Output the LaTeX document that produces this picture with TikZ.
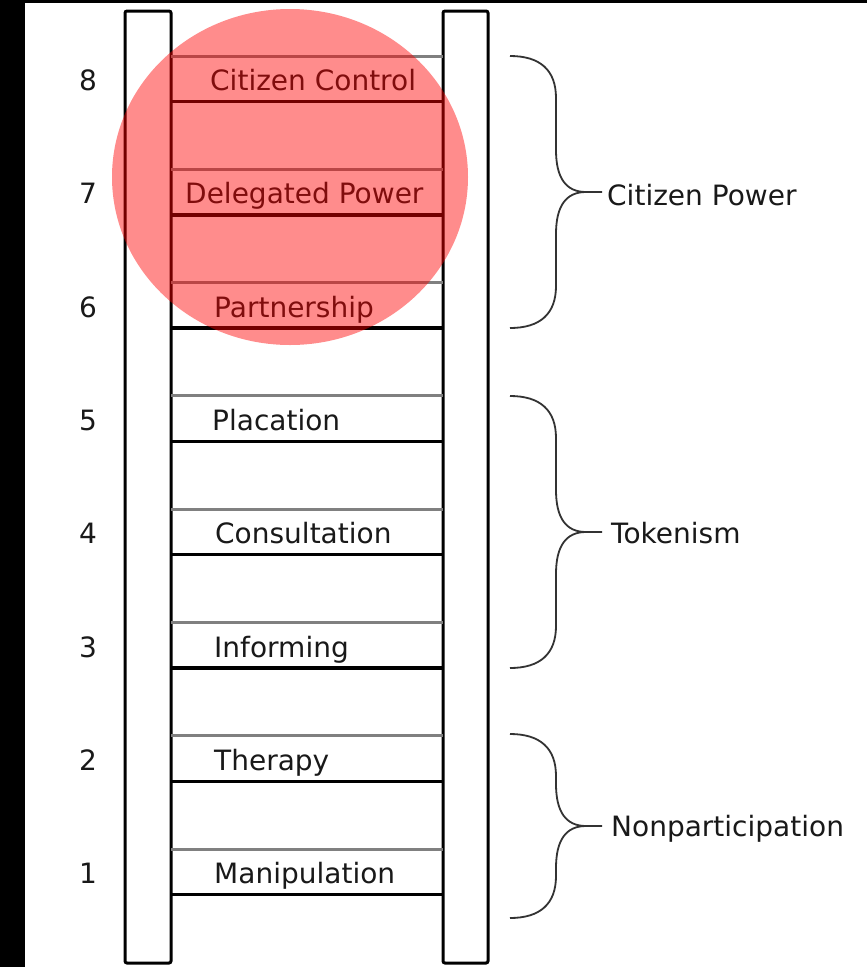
\documentclass[tikz,border=0pt]{standalone}
\usepackage{fontspec}
\setmainfont{DejaVu Sans}
\begin{document}
\begin{tikzpicture}[x=1pt,y=-1pt,
  rail/.style={draw=black,line width=3pt,fill=white,rounded corners=2pt},
  lowrung/.style={draw=black,line width=3.5pt},
  uprung/.style={draw=black!50,line width=3pt},
  lbl/.style={anchor=base west,inner sep=0pt,font=\fontsize{28}{32}\selectfont,text=black!90},
  num/.style={anchor=base,inner sep=0pt,font=\fontsize{28}{32}\selectfont,text=black!90},
  bracelbl/.style={anchor=base west,inner sep=0pt,font=\fontsize{28}{32}\selectfont,text=black!90},
  bracepath/.style={draw=black!80,line width=1.8pt},
  spot/.style={fill=red,fill opacity=0.45}]
\useasboundingbox (0,0) rectangle (867,967);
\fill[white] (0,0) rectangle (867,967);
\fill[black] (0,0) rectangle (25,967);
\fill[black] (0,0) rectangle (867,3);
% rails
\path[rail] (125,11) rectangle (171,963);
\path[rail] (443,11) rectangle (488,963);
% rungs
\foreach \k in {1,...,8}{
  \pgfmathsetmacro{\gy}{56+(8-\k)*113.3}
  \pgfmathsetmacro{\by}{\gy+45.5}
  \draw[uprung] (171,\gy) -- (443,\gy);
  \draw[lowrung] (171,\by) -- (443,\by);
  \pgfmathsetmacro{\ty}{\by-11}
  \node[num] (n\k) at (88,\ty) {\k};
}
% rung labels
\node[lbl] (l8) at (210,90.5) {Citizen Control};
\node[lbl] (l7) at (185,203.8) {Delegated Power};
\node[lbl] (l6) at (214,317) {Partnership};
\node[lbl] (l5) at (212,430.4) {Placation};
\node[lbl] (l4) at (215,543.7) {Consultation};
\node[lbl] (l3) at (214,657) {Informing};
\node[lbl] (l2) at (214,770.3) {Therapy};
\node[lbl] (l1) at (214,883.6) {Manipulation};
% braces
\foreach \T/\B/\nm in {56/328/cp,396/668/tk,734/918/np}{
  \pgfmathsetmacro{\M}{(\T+\B)/2}
  \coordinate (\nm top) at (510,\T);
  \coordinate (\nm bot) at (510,\B);
  \coordinate (\nm tip) at (602,\M);
  \draw[bracepath] (\nm top) .. controls (540,\T) and (556,\T+14) .. (556,\T+42)
     -- (556,\M-42) .. controls (556,\M-14) and (566,\M) .. (586,\M) -- (\nm tip);
  \draw[bracepath] (586,\M) .. controls (566,\M) and (556,\M+14) .. (556,\M+42)
     -- (556,\B-42) .. controls (556,\B-14) and (540,\B) .. (\nm bot);
}
\node[bracelbl] (cpl) at (607,205) {Citizen Power};
\node[bracelbl] (tkl) at (611,543) {Tokenism};
\node[bracelbl] (npl) at (611,836) {Nonparticipation};
% red spot
\path[spot] (290,177) ellipse [x radius=178pt, y radius=168pt];
\end{tikzpicture}
\end{document}
